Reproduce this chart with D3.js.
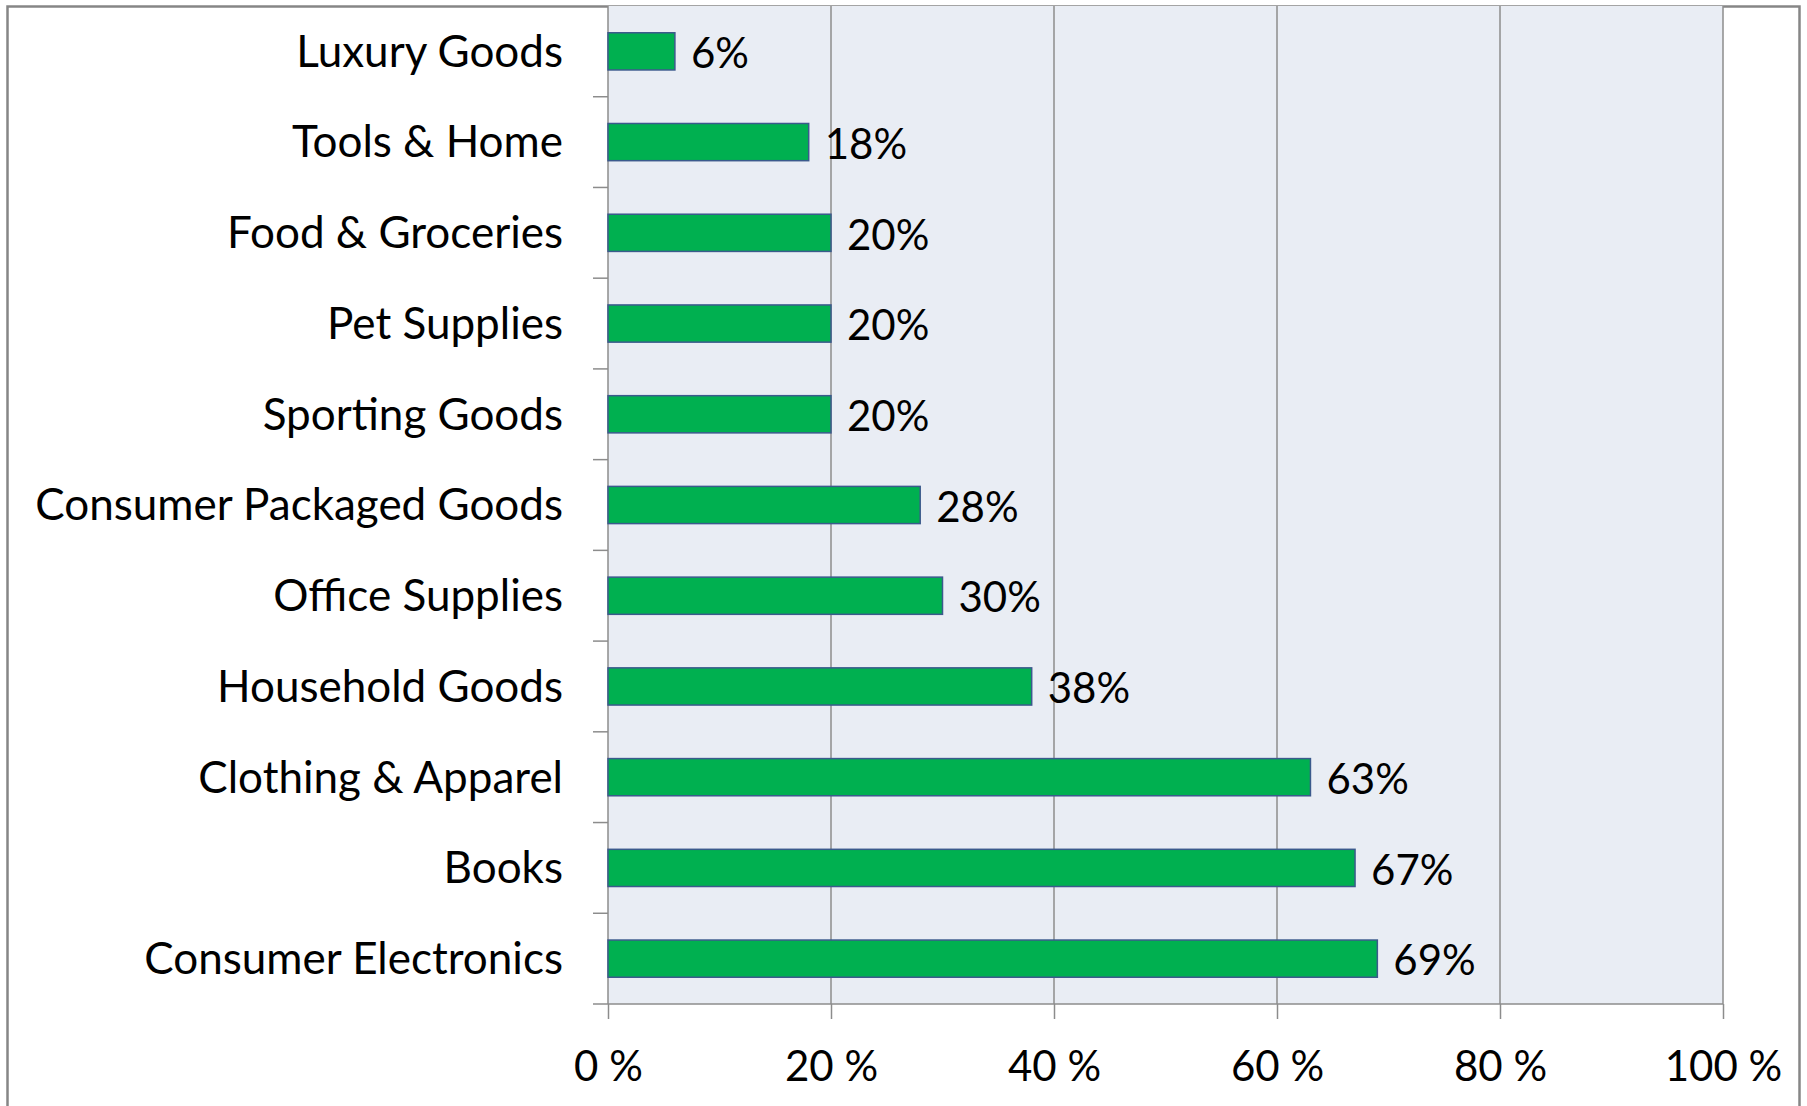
<!DOCTYPE html>
<html>
<head>
<meta charset="utf-8">
<script src="https://cdn.jsdelivr.net/npm/d3@7"></script>
<style>
  body { margin: 0; background: #fff; }
  text { font-family: Lato, "Open Sans", sans-serif; fill: #000; }
</style>
</head>
<body>
<div id="chart"></div>
<script>
// categories, top to bottom
var categories = ["Luxury Goods", "Tools & Home", "Food & Groceries", "Pet Supplies",
  "Sporting Goods", "Consumer Packaged Goods", "Office Supplies", "Household Goods",
  "Clothing & Apparel", "Books", "Consumer Electronics"];
var values = [6, 18, 20, 20, 20, 28, 30, 38, 63, 67, 69];
var xTicks = [0, 20, 40, 60, 80, 100];

var width = 1807, height = 1106;
var margin = { left: 608, top: 6, right: 84, bottom: 102 };
var fontSize = 42;
var catFontSize = 44;

var svg = d3.select("#chart").append("svg")
    .attr("width", width)
    .attr("height", height);

// outer chart border
svg.append("rect")
    .attr("x", 7.5).attr("y", 6.5)
    .attr("width", 1792).attr("height", 1110)
    .attr("fill", "#fff")
    .attr("stroke", "#868686")
    .attr("stroke-width", 2.5);

var x = d3.scaleLinear().domain([0, 100]).range([margin.left, width - margin.right]);
var y = d3.scaleBand().domain(categories).range([margin.top, height - margin.bottom]).paddingInner(0.59).paddingOuter(0.295);
var yb = d3.scaleBand().domain(categories).range([margin.top, height - margin.bottom]);

// plot background
svg.append("rect")
    .attr("x", x(0)).attr("y", margin.top)
    .attr("width", x(100) - x(0)).attr("height", height - margin.bottom - margin.top)
    .attr("fill", "#E9EDF4");

// vertical gridlines
svg.append("g").selectAll("line")
    .data(xTicks.slice(1))
    .join("line")
    .attr("x1", d => x(d)).attr("x2", d => x(d))
    .attr("y1", margin.top).attr("y2", height - margin.bottom)
    .attr("stroke", "#8C8C8C")
    .attr("stroke-width", 1.5);

// x axis
var xAxis = svg.append("g")
    .attr("transform", "translate(0," + (height - margin.bottom) + ")")
    .call(d3.axisBottom(x).tickValues(xTicks).tickSize(15).tickPadding(32).tickFormat(d => d + " %"));
xAxis.select(".domain").attr("stroke", "#8C8C8C").attr("stroke-width", 1.5)
    .attr("d", "M" + (x(0) - 15) + ",0H" + x(100));
xAxis.selectAll(".tick line").attr("stroke", "#8C8C8C").attr("stroke-width", 1.5);
xAxis.selectAll(".tick text")
    .style("font-size", fontSize + "px")
    .attr("dy", "0.72em")
    .attr("fill", "#000");

// y axis line and ticks at category boundaries
svg.append("line")
    .attr("x1", x(0)).attr("x2", x(0))
    .attr("y1", margin.top).attr("y2", height - margin.bottom)
    .attr("stroke", "#8C8C8C").attr("stroke-width", 1.5);
svg.append("g").selectAll("line")
    .data(categories.slice(1))
    .join("line")
    .attr("x1", x(0) - 15).attr("x2", x(0))
    .attr("y1", d => yb(d)).attr("y2", d => yb(d))
    .attr("stroke", "#8C8C8C").attr("stroke-width", 1.5);

// category labels
svg.append("g").selectAll("text")
    .data(categories)
    .join("text")
    .attr("x", x(0) - 45)
    .attr("y", d => yb(d) + yb.bandwidth() / 2)
    .attr("dy", "0.35em")
    .attr("text-anchor", "end")
    .style("font-size", catFontSize + "px")
    .text(d => d);

// bars
svg.append("g").selectAll("rect")
    .data(values)
    .join("rect")
    .attr("x", x(0))
    .attr("y", (d, i) => y(categories[i]))
    .attr("width", d => x(d) - x(0))
    .attr("height", y.bandwidth())
    .attr("fill", "#00B050")
    .attr("stroke", "#3B5A8C")
    .attr("stroke-width", 1.5);

// value labels
svg.append("g").selectAll("text")
    .data(values)
    .join("text")
    .attr("x", d => x(d) + 16)
    .attr("y", (d, i) => yb(categories[i]) + yb.bandwidth() / 2 + 2)
    .attr("dy", "0.35em")
    .style("font-size", fontSize + "px")
    .text(d => d + "%");
</script>
</body>
</html>
